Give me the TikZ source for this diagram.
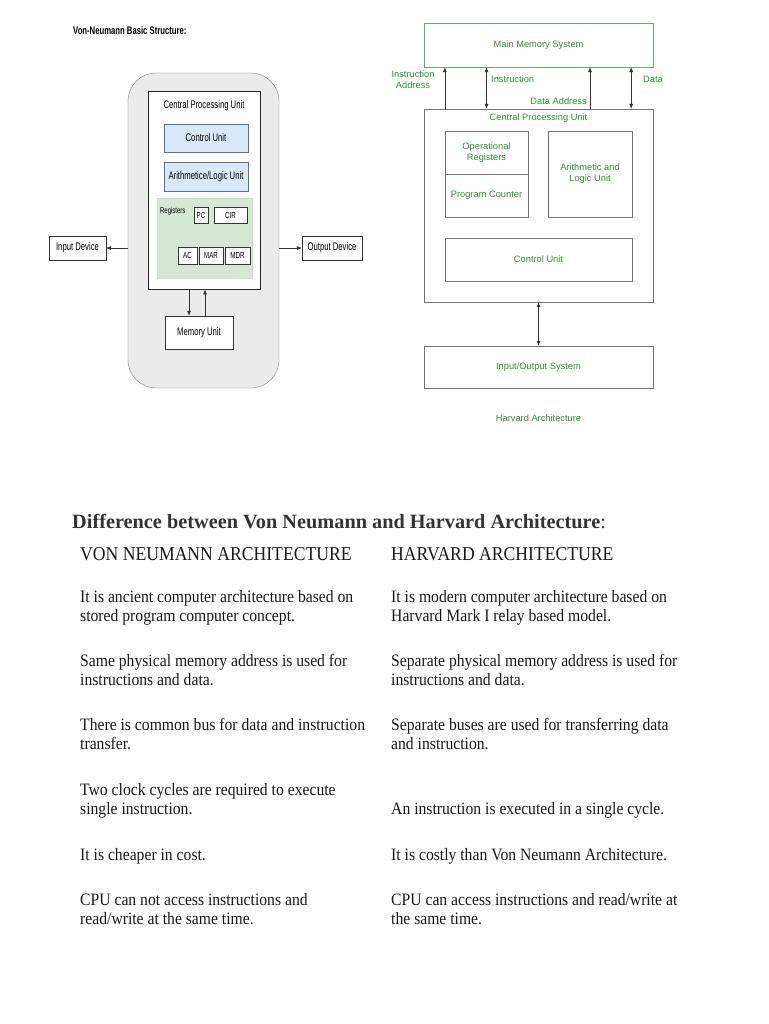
\documentclass[tikz,border=0pt]{standalone}
\usepackage{fontspec}
\setmainfont{Liberation Serif}
\newfontfamily\tabfont[FakeStretch=0.9]{Liberation Serif}
\newfontfamily\vnfont[FakeStretch=0.7]{Liberation Sans}
\newfontfamily\hvfont{Liberation Sans}
\usetikzlibrary{arrows.meta}

\definecolor{hgreen}{HTML}{2F8F36}
\definecolor{hframe}{HTML}{6AAA6A}
\definecolor{cufill}{HTML}{DAE8FC}
\definecolor{cuframe}{HTML}{5B6F8E}
\definecolor{regfill}{HTML}{D5E8D4}

\begin{document}
\begin{tikzpicture}[
		x=1pt,y=-1pt,
		vnbox/.style={
			draw=black!80,fill=white,inner sep=0pt,font=\vnfont\fontsize{11}{12}\selectfont,
		},
		unitbox/.style={
			vnbox,draw=cuframe,fill=cufill,
		},
		regbox/.style={
			vnbox,font=\vnfont\fontsize{8.8}{9}\selectfont,
		},
		hbox/.style={
			draw=black!55,inner sep=0pt,text=hgreen,align=center,
			font=\hvfont\fontsize{9.3}{11}\selectfont,
		},
		hlabel/.style={
			inner sep=0pt,text=hgreen,align=center,font=\hvfont\fontsize{9.3}{11}\selectfont,
		},
		arr/.style={
			draw=black!80,line width=0.5pt,-{Latex[length=5pt,width=4pt]},
		},
		darr/.style={
			draw=black!80,line width=0.5pt,{Latex[length=5pt,width=4pt]}-{Latex[length=5pt,width=4pt]},
		},
		% base of a cell = baseline of its last line
		cell/.style={
			anchor=base west,inner sep=0pt,align=left,text=black!90,
			font=\tabfont\fontsize{17.4}{19}\selectfont,
		},
	]
	\useasboundingbox (0,0) rectangle (768,1024);

	% von neumann structure
	\node[anchor=base west,inner sep=0pt,font=\vnfont\bfseries\fontsize{11}{12}\selectfont] (vntitle) at (73,35) {Von-Neumann Basic Structure:};

	\node[draw=black!50,fill=black!8,rounded corners=28pt,minimum width=151,minimum height=315] (outer) at (203.5,230.5) {};
	\node[vnbox,draw=black!85,line width=0.9pt,minimum width=112,minimum height=198] (vcpu) at (204,190) {};
	\node[inner sep=0pt,font=\vnfont\fontsize{11}{12}\selectfont] (vcpulabel) at (204,106) {Central Processing Unit};

	\node[unitbox,minimum width=84,minimum height=28] (vcu) at (206,138) {Control Unit};
	\node[unitbox,minimum width=84,minimum height=29] (valu) at (206,176.5) {Arithmetice/Logic Unit};

	\node[draw=regfill!80!black!20!regfill,fill=regfill,minimum width=95,minimum height=80] (vreg) at (204.5,238) {};
	\node[anchor=west,inner sep=0pt,font=\vnfont\fontsize{8.5}{9}\selectfont] (vreglabel) at (160,211) {Registers};
	\node[regbox,minimum width=14,minimum height=16] (pc) at (201,215) {PC};
	\node[regbox,minimum width=33,minimum height=16] (cir) at (230.5,215) {CIR};
	\node[regbox,minimum width=19,minimum height=17] (ac) at (187.5,255.5) {AC};
	\node[regbox,minimum width=24,minimum height=17] (mar) at (211,255.5) {MAR};
	\node[regbox,minimum width=25,minimum height=17] (mdr) at (237.5,255.5) {MDR};

	\node[vnbox,minimum width=57,minimum height=24] (indev) at (77.5,248) {Input Device};
	\node[vnbox,minimum width=60,minimum height=24] (outdev) at (332,248) {Output Device};
	\node[vnbox,minimum width=68,minimum height=33] (vmem) at (199,332.5) {Memory Unit};

	\draw[arr] (outer.west |- indev) -- (indev.east);
	\draw[arr] (outer.east |- outdev) -- (outdev.west);
	\coordinate (memdown) at ([xshift=-10pt]vmem.north);
	\coordinate (memup) at ([xshift=6pt]vmem.north);
	\draw[arr] (memdown |- vcpu.south) -- (memdown);
	\draw[arr] (memup) -- (memup |- vcpu.south);

	% harvard architecture
	\node[hbox,draw=hframe,minimum width=229,minimum height=44] (hmem) at (538.5,45) {Main Memory System};
	\node[hbox,minimum width=229,minimum height=193] (hcpu) at (538.5,205.5) {};
	\node[hlabel] (hcpulabel) at (538.5,118) {Central Processing Unit};
	\node[hbox,minimum width=83,minimum height=43] (hopreg) at (486.5,152.5) {Operational\\Registers};
	\node[hbox,minimum width=83,minimum height=43] (hpc) at (486.5,195.5) {Program Counter};
	\node[hbox,minimum width=84,minimum height=86] (halu) at (590,174) {Arithmetic and\\Logic Unit};
	\node[hbox,minimum width=187,minimum height=43] (hcu) at (538.5,259.5) {Control Unit};
	\node[hbox,minimum width=229,minimum height=42] (hio) at (538.5,367) {Input/Output System};
	\node[hlabel] (htitle) at (538.5,418) {Harvard Architecture};

	\coordinate (ia) at (hopreg.west);
	\coordinate (ins) at (hopreg.center);
	\coordinate (da) at (halu.center);
	\coordinate (dat) at ([xshift=-1pt]halu.east);
	\draw[arr] (ia |- hcpu.north) -- (ia |- hmem.south);
	\draw[darr] (ins |- hcpu.north) -- (ins |- hmem.south);
	\draw[arr] (da |- hcpu.north) -- (da |- hmem.south);
	\draw[darr] (dat |- hcpu.north) -- (dat |- hmem.south);
	\draw[darr] (hcpu.south) -- (hio.north);

	\node[hlabel] (lia) at (413,79.5) {Instruction\\Address};
	\node[hlabel,anchor=west] (lins) at (491,79) {Instruction};
	\node[hlabel,anchor=east] (lda) at (587,101) {Data Address};
	\node[hlabel] (ldat) at (653,79) {Data};

	% comparison text
	\node[anchor=base west,inner sep=0pt,text=black!80,font=\fontsize{20.3}{22}\selectfont] (difftitle) at (72,528) {\textbf{Difference between Von Neumann and Harvard Architecture}:};

	\node[cell,font=\tabfont\fontsize{19.6}{22}\selectfont] (vnhead) at (80,560) {VON NEUMANN ARCHITECTURE};
	\node[cell,font=\tabfont\fontsize{19.6}{22}\selectfont] (hvhead) at (391,560) {HARVARD ARCHITECTURE};

	\node[cell] (vn1) at (80,621) {It is ancient computer architecture based on\\stored program computer concept.};
	\node[cell] (vn2) at (80,685) {Same physical memory address is used for\\instructions and data.};
	\node[cell] (vn3) at (80,749) {There is common bus for data and instruction\\transfer.};
	\node[cell] (vn4) at (80,814) {Two clock cycles are required to execute\\single instruction.};
	\node[cell] (vn5) at (80,860) {It is cheaper in cost.};
	\node[cell] (vn6) at (80,924) {CPU can not access instructions and\\read/write at the same time.};

	\node[cell] (hv1) at (391,621) {It is modern computer architecture based on\\Harvard Mark I relay based model.};
	\node[cell] (hv2) at (391,685) {Separate physical memory address is used for\\instructions and data.};
	\node[cell] (hv3) at (391,749) {Separate buses are used for transferring data\\and instruction.};
	\node[cell] (hv4) at (391,814) {An instruction is executed in a single cycle.};
	\node[cell] (hv5) at (391,860) {It is costly than Von Neumann Architecture.};
	\node[cell] (hv6) at (391,924) {CPU can access instructions and read/write at\\the same time.};

\end{tikzpicture}
\end{document}
